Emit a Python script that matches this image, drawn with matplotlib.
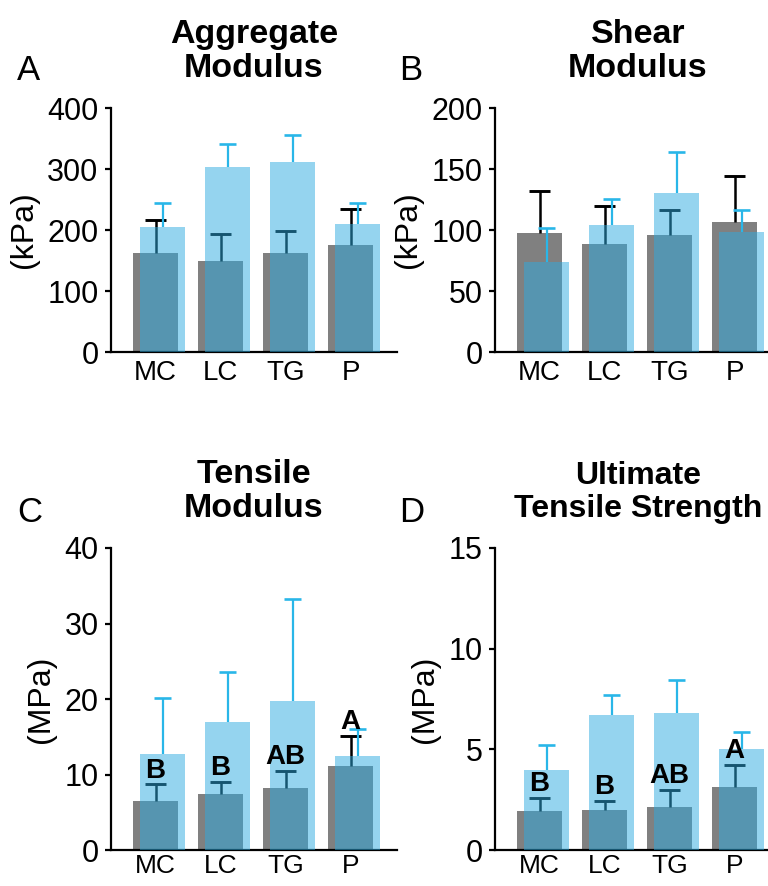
import matplotlib.pyplot as plt
import numpy as np

plt.rcParams['font.family'] = ['Liberation Sans', 'DejaVu Sans']

groups = ["MC", "LC", "TG", "P"]

# panel A - aggregate modulus (kPa)
agg_gray = [163, 149, 162, 176]
agg_gray_err = [54, 44, 37, 58]
agg_blue = [205, 304, 311, 210]
agg_blue_err = [40, 37, 44, 35]

# panel B - shear modulus (kPa)
shear_gray = [97.7, 88.5, 95.5, 106.6]
shear_gray_err = [34.3, 31.2, 20.9, 38.0]
shear_blue = [73.8, 104.0, 130.0, 98.5]
shear_blue_err = [28.0, 21.6, 33.6, 18.2]

# panel C - tensile modulus (MPa)
tens_gray = [6.55, 7.42, 8.24, 11.15]
tens_gray_err = [2.13, 1.65, 2.22, 3.95]
tens_blue = [12.67, 17.0, 19.7, 12.4]
tens_blue_err = [7.43, 6.6, 13.5, 3.6]
tens_letters = ["B", "B", "AB", "A"]

# panel D - ultimate tensile strength (MPa)
uts_gray = [1.93, 2.01, 2.14, 3.12]
uts_gray_err = [0.65, 0.41, 0.85, 1.12]
uts_blue = [3.98, 6.72, 6.83, 5.03]
uts_blue_err = [1.25, 0.99, 1.60, 0.85]
uts_letters = ["B", "B", "AB", "A"]

GRAY = "#808080"
BLUE = "#2DABE0"
BLUE_ERR = "#29B6E8"
WIDTH = 0.69
SHIFT = 0.108


def upper_err(ax, x, y, err, color, lw, cap, z):
    # one-sided error bar: stem from the bar top up, cap only on top
    top = np.array(y) + np.array(err)
    ax.vlines(x, y, top, color=color, lw=lw, zorder=z)
    ax.hlines(top, x - cap / 2, x + cap / 2, color=color, lw=lw + 0.3, zorder=z)


def draw_panel(ax, gray, gray_err, blue, blue_err, ymax, ystep, ylabel, title,
               sig=None, xsize=20, xpad=6, tsize=24.5):
    x = np.arange(len(groups))
    ax.bar(x, gray, WIDTH, color=GRAY, zorder=1)
    upper_err(ax, x, gray, gray_err, "black", 1.8, 0.32, 2)
    ax.bar(x + SHIFT, blue, WIDTH, color=BLUE, alpha=0.5, zorder=3)
    upper_err(ax, x + SHIFT, blue, blue_err, BLUE_ERR, 1.6, 0.25, 4)

    if sig is not None:
        for i, s in enumerate(sig):
            ax.annotate(s, (x[i], gray[i] + gray_err[i]), xytext=(0, 5),
                        textcoords="offset points", ha="center", va="baseline",
                        fontsize=20, fontweight="bold", zorder=5)

    ax.set_xlim(-0.685, 3.715)
    ax.set_ylim(0, ymax)
    ax.set_yticks(np.arange(0, ymax + ystep / 2, ystep))
    ax.set_xticks(x)
    ax.set_xticklabels(groups)
    for side in ["top", "right"]:
        ax.spines[side].set_visible(False)
    for side in ["left", "bottom"]:
        ax.spines[side].set_linewidth(1.6)
    ax.tick_params(axis="y", length=4, width=1.6, pad=5, labelsize=22)
    ax.tick_params(axis="x", length=0, pad=xpad, labelsize=xsize)
    ax.set_ylabel(ylabel, fontsize=23, labelpad=6)
    ax.set_title(title, fontsize=tsize, fontweight="bold", linespacing=1.15, pad=22)


fig = plt.figure(figsize=(7.68, 8.86), dpi=100)
W = 286 / 768
axA = fig.add_axes([111 / 768, 0.6027, W, 0.2754])
axB = fig.add_axes([495 / 768, 0.6027, W, 0.2754])
axC = fig.add_axes([111 / 768, 0.0406, W, 0.3409])
axD = fig.add_axes([495 / 768, 0.0406, W, 0.3409])

draw_panel(axA, agg_gray, agg_gray_err, agg_blue, agg_blue_err, 400, 100,
           "(kPa)", "Aggregate\nModulus")
draw_panel(axB, shear_gray, shear_gray_err, shear_blue, shear_blue_err, 200, 50,
           "(kPa)", "Shear\nModulus")
draw_panel(axC, tens_gray, tens_gray_err, tens_blue, tens_blue_err, 40, 10,
           "(MPa)", "Tensile\nModulus", tens_letters, 19, 2.5)
draw_panel(axD, uts_gray, uts_gray_err, uts_blue, uts_blue_err, 15, 5,
           "(MPa)", "Ultimate\nTensile Strength", uts_letters, 19, 2.5, 23)

# panel letters
for lab, fx, fy in [("A", 17, 80), ("B", 399, 80), ("C", 17, 522), ("D", 399, 522)]:
    fig.text(fx / 768, 1 - fy / 886, lab, fontsize=25, ha="left", va="baseline")

fig.savefig("out.png", dpi=100)
